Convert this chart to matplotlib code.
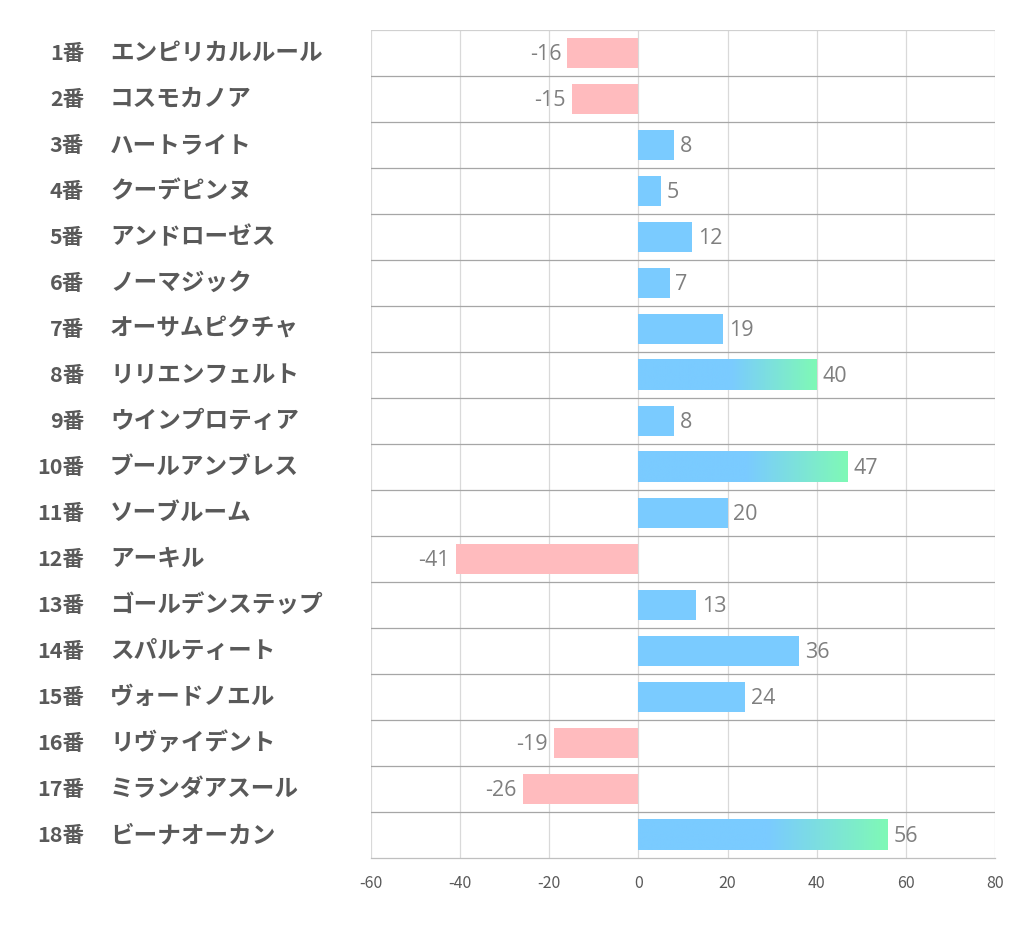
import matplotlib
matplotlib.use("Agg")
import matplotlib.pyplot as plt
import numpy as np
from matplotlib.colors import LinearSegmentedColormap
from matplotlib.transforms import blended_transform_factory

plt.rcParams['font.family'] = ['Noto Sans CJK JP', 'DejaVu Sans']

numbers = ["1番", "2番", "3番", "4番", "5番", "6番", "7番", "8番", "9番", "10番",
           "11番", "12番", "13番", "14番", "15番", "16番", "17番", "18番"]
names = ["エンピリカルルール", "コスモカノア", "ハートライト", "クーデピンヌ", "アンドローゼス",
         "ノーマジック", "オーサムピクチャ", "リリエンフェルト", "ウインプロティア", "ブールアンブレス",
         "ソーブルーム", "アーキル", "ゴールデンステップ", "スパルティート", "ヴォードノエル",
         "リヴァイデント", "ミランダアスール", "ビーナオーカン"]
values = [-16, -15, 8, 5, 12, 7, 19, 40, 8, 47, 20, -41, 13, 36, 24, -19, -26, 56]
xticks = [-60, -40, -20, 0, 20, 40, 60, 80]

BLUE = "#7ACBFF"
GREEN = "#7FF9B6"
PINK = "#FFBBBE"
H = 0.67

fig = plt.figure(figsize=(10.22, 9.39), dpi=100)
ax = fig.add_axes([371/1022, 1-858/939, (995-371)/1022, (858-30)/939])

n = len(values)
ax.set_xlim(-60, 80)
ax.set_ylim(n - 0.5, -0.5)

# grid
for t in xticks:
    ax.axvline(t, color="#D9D9D9", lw=0.9, zorder=0)
for i in range(n - 1):
    ax.axhline(i + 0.5, color="#A6A6A6", lw=0.9, zorder=0)
ax.axhline(-0.5, color="#D0D0D0", lw=0.9, zorder=0)

grad_cmap = LinearSegmentedColormap.from_list("g", [(0, BLUE), (0.52, BLUE), (1, GREEN)])
grad = np.linspace(0, 1, 256).reshape(1, -1)

vfont = ['Open Sans', 'DejaVu Sans']
for i, v in enumerate(values):
    if v < 0:
        ax.barh(i, v, height=H, color=PINK, zorder=2)
        ax.text(v - 1.3, i + 0.04, str(v), ha="right", va="center", fontsize=15.5,
                color="#7F7F7F", family=vfont)
    else:
        if v >= 40:
            ax.barh(i, v, height=H, color="none", zorder=2)
            ax.imshow(grad, cmap=grad_cmap, aspect="auto",
                      extent=[0, v, i + H/2, i - H/2], zorder=2, interpolation="bilinear")
        else:
            ax.barh(i, v, height=H, color=BLUE, zorder=2)
        ax.text(v + 1.3, i + 0.04, str(v), ha="left", va="center", fontsize=15.5,
                color="#7F7F7F", family=vfont)

ax.set_xlim(-60, 80)
ax.set_ylim(n - 0.5, -0.5)

ax.set_xticks(xticks)
ax.set_xticklabels([str(t) for t in xticks], fontsize=11.5, color="#595959")
ax.tick_params(axis="x", length=0, pad=12)
ax.set_yticks([])
for s in ["top", "right", "left"]:
    ax.spines[s].set_visible(False)
ax.spines["bottom"].set_color("#BFBFBF")
ax.spines["bottom"].set_linewidth(0.9)

trans = blended_transform_factory(fig.transFigure, ax.transData)
for i in range(n):
    ax.text(84/1022, i, numbers[i], transform=trans, ha="right", va="center",
            fontsize=15.5, fontweight="bold", color="#595959")
    ax.text(110/1022, i, names[i], transform=trans, ha="left", va="center",
            fontsize=17, fontweight="bold", color="#595959")

fig.savefig("out.png", dpi=100)
